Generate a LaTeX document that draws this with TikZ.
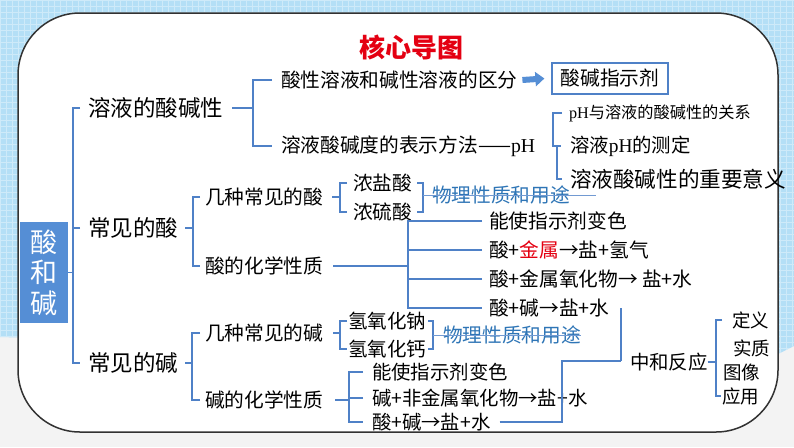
\documentclass[tikz,border=0pt]{standalone}
\usepackage{fontspec}
\newfontfamily\cjk{Noto Sans CJK SC}
\newfontfamily\ser{Liberation Serif}
\usetikzlibrary{arrows.meta}
\definecolor{bgblue}{RGB}{180,223,246}
\definecolor{bggray}{RGB}{243,243,243}
\definecolor{lineblue}{RGB}{79,129,199}
\definecolor{rootblue}{RGB}{85,142,213}
\definecolor{physblue}{RGB}{46,117,182}
\definecolor{titlered}{RGB}{228,0,18}
\definecolor{framegray}{RGB}{50,50,50}
\tikzset{
  ln/.style={draw=lineblue, line width=1.5},
  thinln/.style={draw=lineblue!80, line width=1},
  lbl/.style={anchor=west, inner sep=0, outer sep=0, font=\cjk\fontsize{#1}{#1}\selectfont},
  lbl/.default=19.7,
}
\begin{document}
\begin{tikzpicture}[x=1pt,y=-1pt]
\useasboundingbox (0,0) rectangle (794,447);
% background
\fill[bggray] (0,0) rectangle (794,447);
\begin{scope}
\clip (0,0) -- (794,0) -- (794,346) -- (770,358) -- (0,337) -- cycle;
\fill[bgblue] (0,0) rectangle (794,447);
\draw[white, opacity=0.35, line width=0.6, step=6pt] (0,0) grid (794,447);
\end{scope}
\draw[fill=white, draw=framegray, line width=1.5, rounded corners=62pt] (18,13) rectangle (778,432);

% title
\node[font=\cjk\bfseries\fontsize{26}{30}\selectfont, text=titlered, inner sep=0] (title) at (411,47) {核心导图};

% root
\node[fill=rootblue, text=white, minimum width=48, minimum height=101, inner sep=0, align=center,
      font=\cjk\fontsize{27}{30.5}\selectfont] (root) at (44,272.5) {酸\\和\\碱};

% level 1
\node[lbl=22.5] (n1) at (88,108) {溶液的酸碱性};
\node[lbl=22.5] (n2) at (88,228) {常见的酸};
\node[lbl=22.5] (n3) at (88,363) {常见的碱};
\coordinate (rv) at (73,0);
\draw[ln] (root.east) -- (rv |- root.east);
\draw[ln] ([xshift=-8]n1.west) -- (rv |- n1.west) -- (rv |- n3.west) -- ([xshift=-8]n3.west);
\draw[ln] ([xshift=-8]n2.west) -- (rv |- n2.west);

% branch 1
\node[lbl] (a1) at (281,80) {酸性溶液和碱性溶液的区分};
\node[lbl] (a2) at (281,146) {溶液酸碱度的表示方法——{\ser pH}};
\coordinate (av) at (253,0);
\draw[ln] ([xshift=9]n1.east) -- (av |- n1.east);
\draw[ln] ([xshift=-9]a1.west) -- (av |- a1.west) -- (av |- a2.west) -- ([xshift=-9]a2.west);
\node[draw=lineblue, line width=1.2, minimum width=116, minimum height=31, inner sep=0,
      font=\cjk\fontsize{19.7}{22}\selectfont] (ind) at (610,78.5) {酸碱指示剂};
\draw[-{Triangle[length=9pt,width=14pt]}, line width=6, draw=rootblue] ([xshift=5]a1.east) -- ([xshift=-7]ind.west);

\node[lbl=16.2] (p1) at (569,113) {{\ser pH}与溶液的酸碱性的关系};
\node[lbl=19.4] (p2) at (570,146) {溶液{\ser pH}的测定};
\node[lbl=21.6] (p3) at (570,179) {溶液酸碱性的重要意义};
\coordinate (pv1) at (553,0);
\coordinate (pv2) at (557,0);
\draw[ln] ([xshift=-7]p1.west) -- (pv1 |- p1.west) -- (pv1 |- p2.west) -- ([xshift=-9]p2.west);
\draw[ln] (pv2 |- p2.west) -- (pv2 |- p3.west) -- ([xshift=-8]p3.west);

% branch 2 : acids
\node[lbl] (b1) at (205,197) {几种常见的酸};
\node[lbl] (b2) at (205,266) {酸的化学性质};
\coordinate (bv) at (193,0);
\draw[ln] ([xshift=7]n2.east) -- (bv |- n2.east);
\draw[ln] ([xshift=-5]b1.west) -- (bv |- b1.west) -- (bv |- b2.west) -- ([xshift=-5]b2.west);

\node[lbl] (c1) at (353,183) {浓盐酸};
\node[lbl] (c2) at (353,212) {浓硫酸};
\coordinate (cv) at (340,0);
\coordinate (cr) at (423,0);
\draw[ln] ([xshift=9]b1.east) -- (cv |- b1.east);
\draw[ln] ([xshift=-6]c1.west) -- (cv |- c1.west) -- (cv |- c2.west) -- ([xshift=-6]c2.west);
\draw[ln] ([xshift=5]c1.east) -- (cr |- c1.east) -- (cr |- c2.east) -- ([xshift=5]c2.east);
\node[lbl, text=physblue] (ph1) at (432,195) {物理性质和用途};
\draw[thinln] (cr |- ph1.west) -- ([xshift=26]ph1.east);

\node[lbl] (d1) at (489,221) {能使指示剂变色};
\node[lbl] (d2) at (489,250) {酸+{\color{titlered}金属}→盐+氢气};
\node[lbl] (d3) at (489,279) {酸+金属氧化物→ 盐+水};
\node[lbl] (d4) at (489,308) {酸+碱→盐+水};
\coordinate (dv) at (408,0);
\draw[ln] ([xshift=10]b2.east) -- (dv |- b2.east);
\draw[ln] ([xshift=-7]d1.west) -- (dv |- d1.west) -- (dv |- d4.west) -- ([xshift=-7]d4.west);
\draw[ln] ([xshift=-7]d2.west) -- (dv |- d2.west);
\draw[ln] ([xshift=-7]d3.west) -- (dv |- d3.west);

% branch 3 : bases
\node[lbl] (e1) at (205,333) {几种常见的碱};
\node[lbl] (e2) at (205,400) {碱的化学性质};
\coordinate (ev) at (192,0);
\draw[ln] ([xshift=7]n3.east) -- (ev |- n3.east);
\draw[ln] ([xshift=-5]e1.west) -- (ev |- e1.west) -- (ev |- e2.west) -- ([xshift=-5]e2.west);

\node[lbl=19.5] (f1) at (348,321) {氢氧化钠};
\node[lbl=19.5] (f2) at (348,349) {氢氧化钙};
\coordinate (fv) at (340,0);
\coordinate (fr) at (433,0);
\draw[ln] ([xshift=10]e1.east) -- (fv |- e1.east);
\draw[ln] ([xshift=-1]f1.west) -- (fv |- f1.west) -- (fv |- f2.west) -- ([xshift=-1]f2.west);
\draw[ln] ([xshift=2]f1.east) -- (fr |- f1.east) -- (fr |- f2.east) -- ([xshift=2]f2.east);
\node[lbl, text=physblue] (ph2) at (443,335) {物理性质和用途};
\draw[thinln] (fr |- ph2.west) -- (ph2.east);

\node[lbl=19.4] (g1) at (372,372) {能使指示剂变色};
\node[lbl=19.4] (g2) at (372,398) {碱+非金属氧化物→盐+水};
\node[lbl=19.4] (g3) at (372,422) {酸+碱→盐+水};
\coordinate (gv) at (349,0);
\draw[ln] ([xshift=12]e2.east) -- (gv |- e2.east);
\draw[ln] ([xshift=-9]g1.west) -- (gv |- g1.west) -- (gv |- g3.west) -- ([xshift=-9]g3.west);
\draw[ln] ([xshift=-9]g2.west) -- (gv |- g2.west);

% neutralisation
\node[lbl=19.4] (m) at (630,362) {中和反应};
\coordinate (ntop) at (621,308);
\coordinate (nmid) at (562,361);
\draw[ln] (ntop) -- (ntop |- nmid);
\draw[ln] ([xshift=9]g3.east) -| (nmid) -- (ntop |- nmid);

\node[lbl=18.5] (h1) at (732,320) {定义};
\node[lbl=18.5] (h2) at (733,348) {实质};
\node[lbl=18.5] (h3) at (723,372) {图像};
\node[lbl=18.5] (h4) at (722,396) {应用};
\coordinate (hv) at (716,0);
\draw[ln] (m.east) -- (hv |- m.east);
\draw[ln] ([xshift=-10]h1.west) -- (hv |- h1.west) -- (hv |- h4.west) -- ([xshift=-1]h4.west);
\end{tikzpicture}
\end{document}
